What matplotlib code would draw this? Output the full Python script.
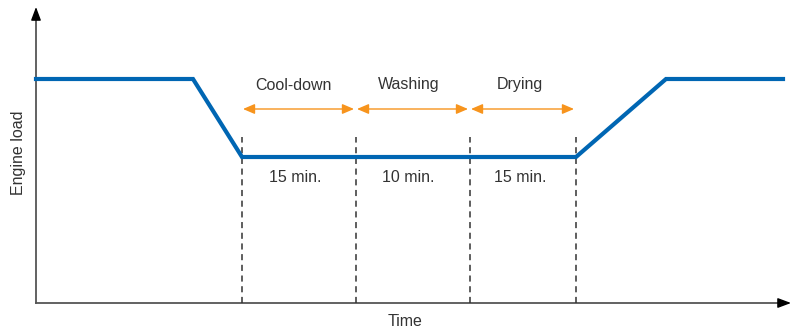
import matplotlib
matplotlib.use("Agg")
import matplotlib.pyplot as plt

plt.rcParams['font.family'] = ['Liberation Sans', 'DejaVu Sans']

# engine load profile (time / load in arbitrary units)
t_load = [0, 157, 206, 540, 630, 747]
load = [224, 224, 146, 146, 224, 224]

# phase boundaries and labels
bounds = [206, 320, 434, 540]
phases = ['Cool-down', 'Washing', 'Drying']
durations = ['15 min.', '10 min.', '15 min.']
phase_x = [257, 373, 484]
dur_x = [259, 372, 484]

fig = plt.figure(figsize=(7.95, 3.32), dpi=100)
ax = fig.add_axes([0, 0, 1, 1])
ax.set_xlim(-36, 759)
ax.set_ylim(-29, 303)
ax.axis('off')

# axes with arrow heads
ax.plot([0, 0], [0, 290], color='#555555', lw=1.3, zorder=1)
ax.plot([0, 748], [0, 0], color='#555555', lw=1.3, zorder=1)
ax.annotate('', xy=(0, 296), xytext=(0, 285),
            arrowprops=dict(arrowstyle='-|>,head_length=0.8,head_width=0.3',
                            color='black', lw=1.0, shrinkA=0, shrinkB=0))
ax.annotate('', xy=(755, 0), xytext=(744, 0),
            arrowprops=dict(arrowstyle='-|>,head_length=0.8,head_width=0.3',
                            color='black', lw=1.0, shrinkA=0, shrinkB=0))

# dashed phase boundaries
for b in bounds:
    ax.plot([b, b], [0, 166], color='#333333', lw=1.1, ls=(0, (4, 3)), zorder=2)

ax.plot(t_load, load, color='#0066b3', lw=3.0, solid_joinstyle='miter', zorder=3)

# orange span arrows
for i in range(len(phases)):
    x0 = bounds[i] + 1
    x1 = bounds[i + 1] - 2
    ax.annotate('', xy=(x1, 194), xytext=(x0, 194),
                arrowprops=dict(arrowstyle='<|-|>,head_length=0.7,head_width=0.3',
                                color='#f7941d', lw=1.0, shrinkA=0, shrinkB=0))
    ax.text(phase_x[i], 218, phases[i], ha='center', va='center',
            fontsize=11.5, color='#333333')
    ax.text(dur_x[i], 126, durations[i], ha='center', va='center',
            fontsize=11.5, color='#333333')

ax.text(369, -19, 'Time', ha='center', va='center', fontsize=11.5, color='#333333')
ax.text(-17, 150, 'Engine load', ha='center', va='center', rotation=90,
        fontsize=11.5, color='#333333')

fig.savefig('out.png', dpi=100)
